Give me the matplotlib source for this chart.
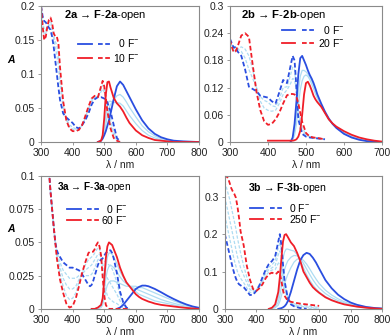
import numpy as np
import matplotlib
matplotlib.use("Agg")
import matplotlib.pyplot as plt
from matplotlib.lines import Line2D
from matplotlib.legend_handler import HandlerTuple

plt.rcParams['font.family'] = ['Liberation Sans', 'DejaVu Sans']
plt.rcParams['mathtext.fontset'] = 'custom'
plt.rcParams['mathtext.rm'] = 'Liberation Sans'
plt.rcParams['mathtext.bf'] = 'Liberation Sans:bold'
plt.rcParams['mathtext.it'] = 'Liberation Sans:italic'

nan = np.nan

# ---- 2a -> F-2a-open ----
wl_2a_abs = [300, 305, 310, 315, 320, 325, 330, 335, 340, 345, 350, 355, 360, 370, 380, 390, 400, 410,
             420, 430, 440, 450, 460, 470, 480, 490, 495, 500, 505, 510, 520, 530, 540, 550]
abs_2a_0 = [0.2, 0.185, 0.178, 0.176, 0.172, 0.168, 0.165, 0.155, 0.14, 0.12, 0.1, 0.08, 0.062, 0.042, 0.036,
            0.032, 0.028, 0.022, 0.02, 0.025, 0.032, 0.042, 0.055, 0.063, 0.066, 0.066, 0.065, 0.064, 0.062,
            0.058, 0.045, 0.025, 0.006, 0.001]
abs_2a_end = [0.2, 0.17, 0.15, 0.155, 0.17, 0.18, 0.183, 0.175, 0.16, 0.155, 0.155, 0.145, 0.11, 0.06, 0.032,
              0.02, 0.016, 0.016, 0.018, 0.025, 0.038, 0.052, 0.064, 0.068, 0.066, 0.082, 0.09, 0.082, 0.065,
              0.045, 0.02, 0.006, 0.002, 0.0]
abs_2a_m1 = [0.2, 0.18, 0.165, 0.165, 0.17, 0.172, 0.172, 0.165, 0.152, 0.14, 0.128, 0.11, 0.085, 0.05, 0.034,
             0.025, 0.022, 0.019, 0.019, 0.025, 0.035, 0.047, 0.06, 0.066, 0.066, 0.074, 0.078, 0.073, 0.063,
             0.05, 0.032, 0.015, 0.004, 0.001]
abs_2a_m2 = [0.2, 0.175, 0.158, 0.16, 0.17, 0.176, 0.178, 0.17, 0.156, 0.148, 0.142, 0.128, 0.098, 0.055, 0.033,
             0.022, 0.019, 0.017, 0.018, 0.025, 0.036, 0.05, 0.062, 0.067, 0.066, 0.078, 0.084, 0.078, 0.064,
             0.047, 0.026, 0.01, 0.003, 0.0]
wl_2a_em = [480, 490, 495, 500, 505, 510, 515, 520, 530, 540, 550, 560, 570, 580, 600, 620, 640, 660, 680,
            700, 720, 750, 800]
em_2a_0 = [0, 0.002, 0.005, 0.01, 0.016, 0.024, 0.032, 0.042, 0.063, 0.082, 0.089, 0.084, 0.075, 0.066, 0.048,
           0.032, 0.02, 0.012, 0.007, 0.004, 0.002, 0.001, 0]
em_2a_end = [0, 0.002, 0.01, 0.035, 0.07, 0.088, 0.089, 0.08, 0.065, 0.057, 0.052, 0.045, 0.036, 0.028, 0.017,
             0.01, 0.006, 0.003, 0.002, 0.001, 0, 0, 0]
em_2a_m1 = [0, 0.002, 0.006, 0.014, 0.025, 0.04, 0.05, 0.055, 0.062, 0.068, 0.07, 0.066, 0.059, 0.051, 0.037,
            0.024, 0.015, 0.009, 0.005, 0.003, 0.001, 0, 0]
em_2a_m2 = [0, 0.002, 0.007, 0.02, 0.038, 0.055, 0.06, 0.06, 0.058, 0.058, 0.057, 0.053, 0.046, 0.039, 0.027,
            0.017, 0.01, 0.006, 0.003, 0.002, 0.001, 0, 0]

# ---- 2b -> F-2b-open ----
wl_2b_abs = [300, 305, 310, 315, 320, 330, 340, 350, 360, 370, 380, 390, 400, 410, 420, 430, 440, 450, 455,
             460, 465, 470, 475, 480, 490, 500, 510, 520, 530, 550]
abs_2b_0 = [0.228, 0.218, 0.208, 0.21, 0.2, 0.19, 0.16, 0.122, 0.117, 0.112, 0.102, 0.1, 0.098, 0.09, 0.085,
            0.11, 0.137, 0.13, 0.15, 0.17, 0.19, 0.18, 0.12, 0.05, 0.018, 0.012, 0.01, 0.009, 0.008, 0.006]
abs_2b_end = [0.225, 0.21, 0.198, 0.2, 0.21, 0.235, 0.24, 0.232, 0.17, 0.11, 0.07, 0.046, 0.038, 0.04, 0.05,
              0.065, 0.085, 0.103, 0.105, 0.106, 0.106, 0.105, 0.1, 0.085, 0.045, 0.02, 0.012, 0.01, 0.009, 0.006]
abs_2b_m1 = [0.225, 0.215, 0.205, 0.21, 0.205, 0.2, 0.185, 0.16, 0.14, 0.12, 0.1, 0.092, 0.088, 0.08, 0.078,
             0.095, 0.12, 0.122, 0.135, 0.15, 0.165, 0.16, 0.115, 0.06, 0.025, 0.015, 0.011, 0.009, 0.008, 0.006]
abs_2b_m2 = [0.225, 0.213, 0.2, 0.205, 0.205, 0.21, 0.205, 0.19, 0.16, 0.12, 0.09, 0.075, 0.07, 0.068, 0.07,
             0.085, 0.105, 0.115, 0.122, 0.13, 0.14, 0.138, 0.11, 0.07, 0.032, 0.017, 0.012, 0.01, 0.009, 0.006]
wl_2b_em = [400, 420, 440, 460, 465, 470, 475, 480, 485, 490, 495, 500, 505, 510, 515, 520, 525, 530, 540,
            550, 560, 570, 580, 600, 620, 640, 660, 680, 700]
em_2b_0 = [nan, nan, nan, 0.001, 0.01, 0.04, 0.09, 0.15, 0.185, 0.19, 0.18, 0.17, 0.158, 0.148, 0.14, 0.13,
           0.118, 0.105, 0.085, 0.067, 0.052, 0.04, 0.031, 0.018, 0.01, 0.005, 0.002, 0.001, 0]
em_2b_end = [0.003, 0.003, 0.003, 0.003, 0.003, 0.004, 0.006, 0.012, 0.025, 0.06, 0.105, 0.13, 0.133, 0.125,
             0.114, 0.102, 0.094, 0.088, 0.078, 0.064, 0.05, 0.041, 0.034, 0.024, 0.016, 0.01, 0.006, 0.003, 0.001]
em_2b_m1 = [nan, nan, nan, 0.001, 0.006, 0.025, 0.06, 0.11, 0.145, 0.158, 0.158, 0.155, 0.15, 0.143, 0.135,
            0.125, 0.113, 0.1, 0.082, 0.065, 0.05, 0.04, 0.032, 0.02, 0.012, 0.006, 0.003, 0.001, 0]
em_2b_m2 = [nan, nan, nan, 0.001, 0.004, 0.015, 0.04, 0.08, 0.115, 0.135, 0.145, 0.148, 0.145, 0.138, 0.128,
            0.118, 0.106, 0.096, 0.08, 0.064, 0.05, 0.04, 0.033, 0.021, 0.013, 0.007, 0.004, 0.002, 0]

# ---- 3a -> F-3a-open ----
wl_3a_abs = [320, 325, 330, 335, 340, 345, 350, 355, 360, 370, 380, 390, 400, 410, 420, 430, 440, 450, 455,
             460, 465, 470, 475, 480, 485, 490, 495, 500, 505, 510, 515, 520, 525, 530, 540, 550, 560, 570, 580]
abs_3a_0 = [0.12, 0.104, 0.088, 0.075, 0.062, 0.05, 0.044, 0.041, 0.039, 0.035, 0.033, 0.031, 0.031, 0.03, 0.029,
            0.026, 0.022, 0.018, 0.017, 0.018, 0.021, 0.025, 0.029, 0.033, 0.036, 0.037, 0.038, 0.04, 0.042,
            0.043, 0.044, 0.044, 0.042, 0.038, 0.027, 0.013, 0.005, 0.001, 0]
abs_3a_end = [0.12, 0.104, 0.088, 0.075, 0.062, 0.05, 0.038, 0.03, 0.022, 0.012, 0.004, 0.001, 0.002, 0.008, 0.017,
              0.027, 0.035, 0.042, 0.043, 0.043, 0.043, 0.045, 0.048, 0.05, 0.047, 0.04, 0.024, 0.01, 0.003,
              0.001, 0, 0, 0, 0, 0, 0, 0, 0, 0]
abs_3a_m1 = [0.12, 0.104, 0.088, 0.075, 0.062, 0.05, 0.04, 0.033, 0.026, 0.017, 0.01, 0.007, 0.008, 0.012, 0.02,
             0.027, 0.033, 0.037, 0.038, 0.039, 0.04, 0.042, 0.044, 0.046, 0.045, 0.04, 0.03, 0.02, 0.014, 0.01,
             0.008, 0.007, 0.006, 0.005, 0.004, 0.002, 0.001, 0, 0]
abs_3a_m2 = [0.12, 0.104, 0.088, 0.075, 0.062, 0.05, 0.041, 0.036, 0.031, 0.023, 0.018, 0.015, 0.015, 0.017, 0.022,
             0.026, 0.029, 0.031, 0.032, 0.033, 0.035, 0.037, 0.039, 0.041, 0.041, 0.039, 0.034, 0.029, 0.026,
             0.023, 0.021, 0.019, 0.017, 0.015, 0.011, 0.006, 0.002, 0.001, 0]
abs_3a_m3 = [0.12, 0.104, 0.088, 0.075, 0.062, 0.05, 0.043, 0.039, 0.035, 0.029, 0.026, 0.023, 0.023, 0.023, 0.025,
             0.025, 0.025, 0.025, 0.025, 0.026, 0.028, 0.031, 0.034, 0.037, 0.038, 0.038, 0.037, 0.036, 0.035,
             0.034, 0.033, 0.032, 0.03, 0.027, 0.02, 0.01, 0.004, 0.001, 0]
wl_3a_em = [460, 470, 480, 490, 495, 500, 505, 510, 515, 520, 525, 530, 540, 550, 560, 570, 580, 590, 600, 610,
            620, 630, 640, 650, 660, 680, 700, 720, 740, 760, 780, 800]
em_3a_0 = [nan, nan, nan, nan, nan, nan, nan, nan, nan, nan, nan, nan, 0, 0.001, 0.003, 0.006, 0.009, 0.012,
           0.015, 0.0165, 0.0175, 0.0175, 0.017, 0.016, 0.015, 0.0125, 0.0098, 0.0074, 0.0052, 0.0033, 0.0018,
           0.0008]
em_3a_end = [0, 0, 0.001, 0.003, 0.008, 0.022, 0.038, 0.047, 0.05, 0.049, 0.048, 0.045, 0.039, 0.031, 0.025,
             0.02, 0.017, 0.014, 0.011, 0.009, 0.0075, 0.0065, 0.0055, 0.0048, 0.004, 0.003, 0.0024, 0.0018,
             0.0012, 0.0007, 0.0003, 0]
em_3a_m1 = [0, 0, 0.001, 0.003, 0.007, 0.018, 0.031, 0.039, 0.042, 0.042, 0.041, 0.039, 0.034, 0.028, 0.024,
            0.02, 0.017, 0.015, 0.013, 0.011, 0.01, 0.009, 0.008, 0.007, 0.006, 0.005, 0.004, 0.003, 0.002,
            0.0012, 0.0006, 0.0002]
em_3a_m2 = [0, 0, 0.001, 0.002, 0.005, 0.013, 0.023, 0.029, 0.032, 0.033, 0.032, 0.031, 0.028, 0.024, 0.021,
            0.019, 0.017, 0.016, 0.015, 0.014, 0.013, 0.012, 0.011, 0.01, 0.009, 0.007, 0.0055, 0.0042, 0.003,
            0.002, 0.001, 0.0004]
em_3a_m3 = [0, 0, 0, 0.001, 0.003, 0.008, 0.014, 0.018, 0.02, 0.021, 0.021, 0.021, 0.02, 0.019, 0.018, 0.017,
            0.017, 0.017, 0.017, 0.016, 0.016, 0.015, 0.014, 0.013, 0.012, 0.01, 0.008, 0.006, 0.0043, 0.0028,
            0.0015, 0.0006]

# ---- 3b -> F-3b-open ----
wl_3b_abs = [300, 305, 310, 315, 320, 325, 330, 335, 340, 345, 350, 360, 370, 380, 390, 400, 410, 420, 430,
             440, 450, 460, 465, 470, 475, 480, 485, 490, 500, 510, 520, 540, 560, 580, 600]
abs_3b_0 = [0.2, 0.182, 0.164, 0.146, 0.128, 0.11, 0.095, 0.082, 0.072, 0.066, 0.063, 0.058, 0.048, 0.037,
            0.038, 0.048, 0.063, 0.085, 0.105, 0.12, 0.128, 0.14, 0.16, 0.18, 0.2, 0.17, 0.12, 0.075, 0.03,
            0.012, 0.007, 0.002, 0, nan, nan]
abs_3b_end = [0.36, 0.355, 0.35, 0.338, 0.324, 0.315, 0.308, 0.298, 0.275, 0.245, 0.208, 0.17, 0.115, 0.078,
              0.053, 0.048, 0.055, 0.066, 0.082, 0.093, 0.097, 0.093, 0.095, 0.1, 0.094, 0.075, 0.05, 0.035,
              0.022, 0.019, 0.017, 0.014, 0.012, 0.01, 0.008]
abs_3b_m1 = [0.25, 0.23, 0.21, 0.19, 0.17, 0.15, 0.13, 0.115, 0.1, 0.09, 0.082, 0.07, 0.056, 0.044, 0.043, 0.05,
             0.063, 0.082, 0.1, 0.112, 0.118, 0.128, 0.145, 0.163, 0.178, 0.155, 0.11, 0.07, 0.03, 0.013, 0.008,
             0.004, 0.002, 0.001, 0]
abs_3b_m2 = [0.3, 0.28, 0.26, 0.24, 0.22, 0.2, 0.18, 0.16, 0.14, 0.125, 0.11, 0.09, 0.07, 0.052, 0.046, 0.05,
             0.06, 0.077, 0.095, 0.105, 0.11, 0.116, 0.13, 0.145, 0.155, 0.14, 0.1, 0.064, 0.03, 0.016, 0.011,
             0.007, 0.005, 0.003, 0.002]
abs_3b_m3 = [0.34, 0.325, 0.31, 0.295, 0.275, 0.255, 0.235, 0.215, 0.19, 0.17, 0.15, 0.115, 0.085, 0.06, 0.05,
             0.049, 0.058, 0.072, 0.088, 0.099, 0.104, 0.105, 0.113, 0.122, 0.125, 0.11, 0.078, 0.052, 0.027,
             0.018, 0.014, 0.01, 0.008, 0.006, 0.004]
wl_3b_em = [440, 450, 460, 470, 475, 480, 485, 490, 495, 500, 510, 520, 530, 540, 550, 560, 570, 580, 590, 600,
            620, 640, 660, 680, 700, 720, 750, 780, 800]
em_3b_0 = [nan, nan, nan, 0, 0.001, 0.002, 0.004, 0.007, 0.012, 0.02, 0.045, 0.075, 0.105, 0.13, 0.144, 0.15,
           0.147, 0.137, 0.124, 0.108, 0.077, 0.055, 0.038, 0.026, 0.017, 0.011, 0.005, 0.002, 0.001]
em_3b_end = [0, 0.003, 0.012, 0.045, 0.085, 0.135, 0.18, 0.198, 0.2, 0.193, 0.178, 0.168, 0.15, 0.128, 0.1,
             0.085, 0.07, 0.058, 0.05, 0.043, 0.031, 0.023, 0.017, 0.012, 0.009, 0.006, 0.003, 0.001, 0]
em_3b_m1 = [0, 0.002, 0.008, 0.03, 0.06, 0.1, 0.135, 0.152, 0.16, 0.16, 0.157, 0.155, 0.145, 0.13, 0.11, 0.092,
            0.077, 0.064, 0.054, 0.045, 0.033, 0.024, 0.018, 0.013, 0.009, 0.006, 0.003, 0.001, 0]
em_3b_m2 = [0, 0.001, 0.005, 0.018, 0.035, 0.06, 0.085, 0.105, 0.118, 0.128, 0.138, 0.143, 0.142, 0.135, 0.122,
            0.107, 0.092, 0.078, 0.066, 0.056, 0.041, 0.03, 0.022, 0.016, 0.011, 0.007, 0.004, 0.002, 0.001]
em_3b_m3 = [0, 0.001, 0.003, 0.01, 0.02, 0.035, 0.05, 0.065, 0.08, 0.092, 0.11, 0.125, 0.133, 0.135, 0.13, 0.12,
            0.107, 0.093, 0.08, 0.068, 0.05, 0.037, 0.027, 0.019, 0.013, 0.009, 0.005, 0.002, 0.001]

BLUE = "#2a4ee0"
RED = "#f01e28"
LIGHT = "#aedcf2"
DASH = (0, (2.6, 1.4))
FS = "\u2007"  # figure space, keeps the legend numbers right-aligned

panels = [
    dict(name="2a", labels=[FS + "0 F$^{-}$", "10 F$^{-}$"], pos=[0.105, 0.576, 0.404, 0.406],
         xlim=(300, 800), ylim=(0, 0.2),
         yticks=[0, 0.05, 0.1, 0.15, 0.2], ylabels=["0", "0.05", "0.1", "0.15", "0.2"],
         xticks=[300, 400, 500, 600, 700, 800], ylab=True, title_xy=(0.146, 0.934), tsize=8,
         leg_xy=(0.234, 0.77), lspace=0.25, tpad=0.15,
         wa=wl_2a_abs, a0=abs_2a_0, a1=abs_2a_end, am=[abs_2a_m1, abs_2a_m2],
         we=wl_2a_em, e0=em_2a_0, e1=em_2a_end, em=[em_2a_m1, em_2a_m2]),
    dict(name="2b", labels=[FS + "0 F$^{-}$", "20 F$^{-}$"], pos=[0.588, 0.576, 0.389, 0.406],
         xlim=(300, 700), ylim=(0, 0.3),
         yticks=[0, 0.06, 0.12, 0.18, 0.24, 0.3], ylabels=["0", "0.06", "0.12", "0.18", "0.24", "0.3"],
         xticks=[300, 400, 500, 600, 700], ylab=False, title_xy=(0.072, 0.934), tsize=8.2,
         leg_xy=(0.342, 0.868), lspace=0.05, tpad=0.3,
         wa=wl_2b_abs, a0=abs_2b_0, a1=abs_2b_end, am=[abs_2b_m1, abs_2b_m2],
         we=wl_2b_em, e0=em_2b_0, e1=em_2b_end, em=[em_2b_m1, em_2b_m2]),
    dict(name="3a", labels=[FS + "0 F$^{-}$", "60 F$^{-}$"], pos=[0.105, 0.078, 0.404, 0.397],
         xlim=(300, 800), ylim=(0, 0.1),
         yticks=[0, 0.025, 0.05, 0.075, 0.1], ylabels=["0", "0.025", "0.05", "0.075", "0.1"],
         xticks=[300, 400, 500, 600, 700, 800], ylab=True, title_xy=(0.10, 0.917), tsize=7.2,
         leg_xy=(0.165, 0.797), lspace=-0.12, tpad=0.1,
         wa=wl_3a_abs, a0=abs_3a_0, a1=abs_3a_end, am=[abs_3a_m1, abs_3a_m2, abs_3a_m3],
         we=wl_3a_em, e0=em_3a_0, e1=em_3a_end, em=[em_3a_m1, em_3a_m2, em_3a_m3]),
    dict(name="3b", labels=["0 F$^{-}$", "250 F$^{-}$"], pos=[0.575, 0.078, 0.402, 0.397],
         xlim=(300, 800), ylim=(0, 0.356),
         yticks=[0, 0.1, 0.2, 0.3], ylabels=["0", "0.1", "0.2", "0.3"],
         xticks=[300, 400, 500, 600, 700, 800], ylab=False, title_xy=(0.146, 0.91), tsize=7.6,
         leg_xy=(0.159, 0.805), lspace=-0.12, tpad=0.55,
         wa=wl_3b_abs, a0=abs_3b_0, a1=abs_3b_end, am=[abs_3b_m1, abs_3b_m2, abs_3b_m3],
         we=wl_3b_em, e0=em_3b_0, e1=em_3b_end, em=[em_3b_m1, em_3b_m2, em_3b_m3]),
]

fig = plt.figure(figsize=(3.91, 3.35), dpi=100)

for p in panels:
    ax = fig.add_axes(p["pos"])
    for m in p["am"]:
        ax.plot(p["wa"], m, color=LIGHT, lw=0.9, ls=DASH)
    for m in p["em"]:
        ax.plot(p["we"], m, color=LIGHT, lw=0.9)
    ax.plot(p["wa"], p["a0"], color=BLUE, lw=1.3, ls=DASH)
    ax.plot(p["we"], p["e0"], color=BLUE, lw=1.3)
    ax.plot(p["wa"], p["a1"], color=RED, lw=1.3, ls=DASH)
    ax.plot(p["we"], p["e1"], color=RED, lw=1.3)

    ax.set_xlim(*p["xlim"])
    ax.set_ylim(*p["ylim"])
    ax.set_xticks(p["xticks"])
    ax.set_yticks(p["yticks"], p["ylabels"])
    ax.tick_params(labelsize=7.5, length=2.5, width=0.6, color="#888888", labelcolor="#222222", pad=2)
    for s in ax.spines.values():
        s.set_color("#8a8a8a")
        s.set_linewidth(0.8)
    ax.set_xlabel("λ / nm", fontsize=7.5, labelpad=1, color="#222222")
    if p["ylab"]:
        ax.text(-0.19, 0.6, "A", transform=ax.transAxes, fontsize=7.5, fontweight="bold",
                fontstyle="italic", ha="center", va="center")

    nm = p["name"]
    ax.text(*p["title_xy"], rf"$\mathbf{{{nm}}}$ → $\mathbf{{F}}$-$\mathbf{{{nm}}}$-open",
            transform=ax.transAxes, fontsize=p["tsize"], ha="left", va="center")

    h0 = (Line2D([], [], color=BLUE, lw=1.3), Line2D([], [], color=BLUE, lw=1.3, ls=DASH))
    h1 = (Line2D([], [], color=RED, lw=1.3), Line2D([], [], color=RED, lw=1.3, ls=DASH))
    ax.legend([h0, h1], p["labels"],
              handler_map={tuple: HandlerTuple(ndivide=None, pad=0.6)},
              loc="upper left", bbox_to_anchor=p["leg_xy"], frameon=False, fontsize=7.5,
              handlelength=3.2, handletextpad=p["tpad"], labelspacing=p["lspace"],
              borderpad=0, borderaxespad=0)

fig.savefig("out.png", dpi=100)
